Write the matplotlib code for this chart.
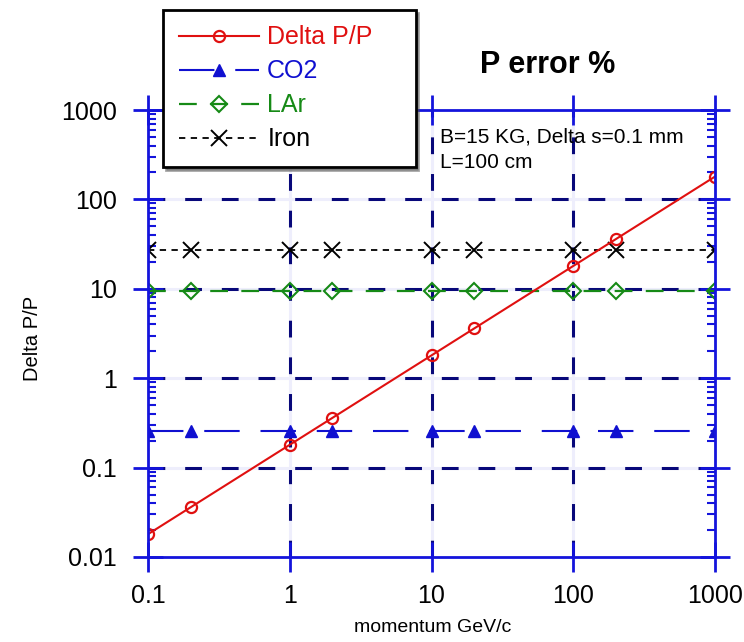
import matplotlib

matplotlib.use("Agg")
import matplotlib.pyplot as plt
from matplotlib.ticker import FixedLocator, LogLocator, NullFormatter, NullLocator

# data
momentum = [0.1, 0.2, 1, 2, 10, 20, 100, 200, 1000]
delta_pp = [0.018, 0.036, 0.18, 0.36, 1.8, 3.6, 18, 36, 180]
co2 = [0.26] * 9
lar = [9.5] * 9
iron = [27] * 9

x_ticks = [0.1, 1, 10, 100, 1000]
x_ticklabels = ["0.1", "1", "10", "100", "1000"]
y_ticks = [0.01, 0.1, 1, 10, 100, 1000]
y_ticklabels = ["0.01", "0.1", "1", "10", "100", "1000"]
x_grid = [1, 10, 100]
y_grid = [0.1, 1, 10, 100]

AXIS_BLUE = "#1414dc"
GRID_NAVY = "#08087a"

plt.rcParams["font.family"] = ["Liberation Sans", "DejaVu Sans"]

fig = plt.figure(figsize=(7.44, 6.42), dpi=100)
ax = fig.add_axes([148 / 744, 1 - 557 / 642, 567 / 744, 447 / 642])
ax.set_xscale("log")
ax.set_yscale("log")
ax.set_xlim(0.1, 1000)
ax.set_ylim(0.01, 1000)

# dashed decade grid
for gx in x_grid:
    ax.axvline(gx, color=GRID_NAVY, lw=2.2, linestyle=(0, (5.5, 6.5)),
               gapcolor="#eeeefc", zorder=1)
for gy in y_grid:
    ax.axhline(gy, color=GRID_NAVY, lw=2.2, linestyle=(0, (5.5, 6.5)),
               gapcolor="#eeeefc", zorder=1)

ax.plot(momentum, delta_pp, color="#e01010", lw=1.5, marker="o", ms=8,
        mfc="none", mew=1.6, label="Delta P/P", zorder=5)
ax.plot(momentum, co2, color="#1010d0", lw=1.5, linestyle=(0, (17, 10)),
        marker="^", ms=9, label="CO2", zorder=4)
ax.plot(momentum, lar, color="#168a16", lw=1.6, linestyle=(0, (8, 6)),
        marker="D", ms=8, mfc="none", mew=1.5, label="LAr", zorder=4)
ax.plot(momentum, iron, color="black", lw=1.3, linestyle=(0, (3.5, 3)),
        marker="x", ms=11, mew=1.4, label="Iron", zorder=4)

# frame and ticks
for s in ax.spines.values():
    s.set_color(AXIS_BLUE)
    s.set_linewidth(2)
    s.set_zorder(6)

ax.xaxis.set_major_locator(FixedLocator(x_ticks))
ax.yaxis.set_major_locator(FixedLocator(y_ticks))
ax.set_xticklabels(x_ticklabels)
ax.set_yticklabels(y_ticklabels)
ax.xaxis.set_minor_locator(NullLocator())
ax.yaxis.set_minor_locator(LogLocator(base=10, subs=range(2, 10), numticks=20))
ax.yaxis.set_minor_formatter(NullFormatter())
ax.tick_params(which="major", direction="inout", length=21, width=2,
               color=AXIS_BLUE, labelsize=18, top=True, right=True)
ax.tick_params(which="minor", direction="in", length=6, width=1.5,
               color=AXIS_BLUE, top=True, right=True)
ax.tick_params(axis="x", which="major", pad=9)
ax.tick_params(axis="y", which="major", pad=12)

fig.text(433 / 744, 1 - 627 / 642, "momentum GeV/c", fontsize=14,
         ha="center", va="center")
fig.text(33 / 744, 1 - 338 / 642, "Delta P/P", fontsize=14.5, rotation=90,
         ha="center", va="center")

fig.text(548 / 744, 1 - 65 / 642, "P error %", fontsize=22, fontweight="bold",
         ha="center", va="center")
fig.text(440 / 744, 1 - 137 / 642, "B=15 KG, Delta s=0.1 mm", fontsize=15,
         ha="left", va="center", zorder=7)
fig.text(440 / 744, 1 - 163 / 642, "L=100 cm", fontsize=15,
         ha="left", va="center", zorder=7)

handles, labels = ax.get_legend_handles_labels()
# trailing spaces widen the box on the right like the reference
labels[0] = labels[0] + "    "
leg = fig.legend(handles, labels, loc="upper left",
                 bbox_to_anchor=(163 / 744, 1 - 10 / 642),
                 fontsize=18, frameon=True, fancybox=False, shadow=True,
                 edgecolor="black", framealpha=1, handlelength=3.2,
                 labelcolor="linecolor", borderpad=0.62, labelspacing=0.4,
                 handletextpad=0.35, borderaxespad=0)
leg.get_frame().set_linewidth(2)
leg.set_zorder(10)

fig.savefig("out.png", dpi=100)
